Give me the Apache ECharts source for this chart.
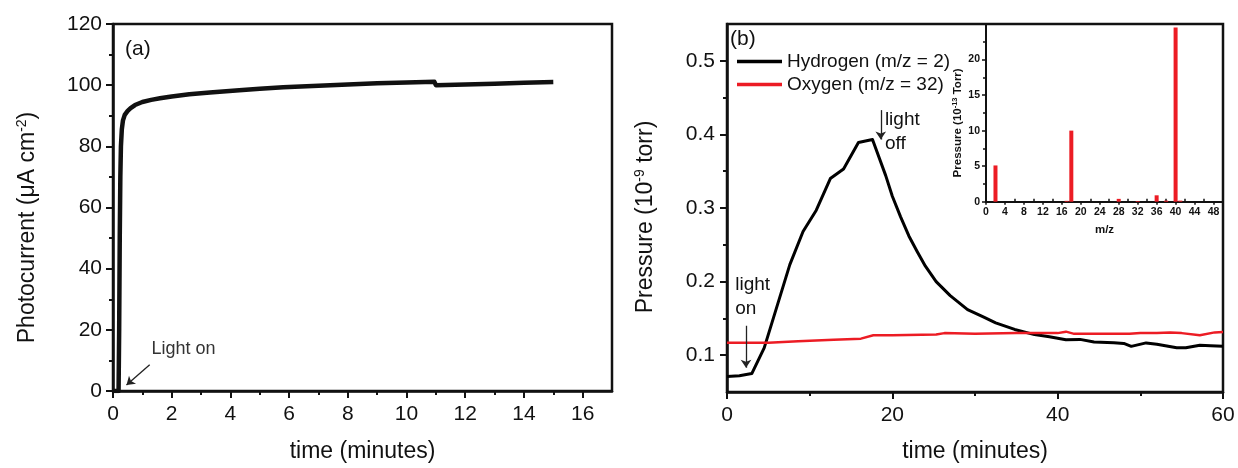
<!DOCTYPE html>
<html>
<head>
<meta charset="utf-8">
<script src="https://cdn.jsdelivr.net/npm/echarts@6/dist/echarts.min.js"></script>
<style>
html,body{margin:0;padding:0;background:#fff;}
#chart{width:1238px;height:468px;}
</style>
</head>
<body>
<div id="chart"></div>
<script>
// ---------- Data ----------
// Panel (a): photocurrent vs time
const photoTime = [0, 0.19, 0.21, 0.23, 0.25, 0.27, 0.30, 0.34, 0.40, 0.5, 0.6, 0.75, 1.0, 1.3, 1.6, 2.0, 2.6, 3.3, 4.3, 5.0, 5.8, 7.0, 8.0, 9.0, 10.0, 10.95, 11.0, 12.0, 13.0, 14.0, 15.0];
const photoCurrent = [0, 0, 20, 50, 70, 80, 85.5, 88.5, 90.3, 91.6, 92.5, 93.5, 94.5, 95.2, 95.7, 96.3, 97.0, 97.6, 98.3, 98.8, 99.3, 99.8, 100.2, 100.6, 100.9, 101.1, 100.0, 100.2, 100.5, 100.8, 101.0];

// Panel (b): pressure vs time
const h2Time = [0, 1.5, 3.0, 4.5, 5.6, 7.6, 9.2, 10.8, 12.5, 14.1, 15.9, 17.6, 19.2, 20.0, 21.0, 22.0, 23.0, 24.0, 25.3, 27.0, 29.1, 31.0, 32.5, 34.8, 37.2, 39.0, 41.0, 42.7, 44.4, 46.8, 48.0, 48.9, 50.7, 52.0, 54.4, 55.5, 57.2, 58.5, 60];
const h2Pressure = [0.071, 0.072, 0.075, 0.110, 0.150, 0.223, 0.268, 0.297, 0.340, 0.353, 0.389, 0.393, 0.344, 0.316, 0.288, 0.262, 0.241, 0.221, 0.200, 0.181, 0.162, 0.152, 0.144, 0.135, 0.128, 0.125, 0.121, 0.1215, 0.118, 0.117, 0.116, 0.112, 0.1167, 0.115, 0.110, 0.110, 0.1135, 0.113, 0.112];
const o2Time = [0, 5, 8.6, 12.9, 16.2, 17.7, 20, 25.3, 26.3, 30, 35, 40, 41, 42, 45, 48.7, 50, 52, 53.6, 55, 57.2, 59, 60];
const o2Pressure = [0.117, 0.117, 0.119, 0.121, 0.1225, 0.127, 0.127, 0.128, 0.130, 0.129, 0.130, 0.130, 0.132, 0.129, 0.129, 0.129, 0.130, 0.130, 0.131, 0.130, 0.127, 0.131, 0.1315];

// Inset: mass spectrum
const mzValues = [2, 17, 18, 28, 32, 36, 38, 40, 41];
const mzPressure = [5.1, 0.12, 10.0, 0.4, 0.1, 0.9, 0.15, 24.5, 0.15];

// Tick labels
const aXTicks = [0, 2, 4, 6, 8, 10, 12, 14, 16];
const aXMinor = [1, 3, 5, 7, 9, 11, 13, 15];
const aYTicks = [0, 20, 40, 60, 80, 100, 120];
const aYMinor = [10, 30, 50, 70, 90, 110];
const bXTicks = [0, 20, 40, 60];
const bXMinor = [10, 30, 50];
const bYTicks = [0.1, 0.2, 0.3, 0.4, 0.5];
const bYMinor = [0.15, 0.25, 0.35, 0.45];
const iXTicks = [0, 4, 8, 12, 16, 20, 24, 28, 32, 36, 40, 44, 48];
const iXMinor = [2, 6, 10, 14, 18, 22, 26, 30, 34, 38, 42, 46];
const iYTicks = [0, 5, 10, 15, 20];
const iYMinor = [2.5, 7.5, 12.5, 17.5, 22.5];

const seriesNames = ['Hydrogen (m/z = 2)', 'Oxygen (m/z = 32)'];

// ---------- Styling helpers ----------
const FONT = 'Liberation Sans, Arial, Helvetica, sans-serif';
const INK = '#111';
const RED = '#ec1c24';

function majorAxis(o) {
  return Object.assign({
    type: 'value',
    splitLine: { show: false },
    axisLine: { show: true, onZero: false, lineStyle: { color: INK, width: o.lw || 2.5 } },
    axisTick: { show: true, inside: !!o.tickInside, length: o.tickLen || 7, customValues: o.ticks, lineStyle: { color: INK, width: o.tw || 2 } },
    axisLabel: { show: true, customValues: o.ticks, margin: o.margin || 11, fontSize: o.fs || 21, fontFamily: FONT, color: INK, fontWeight: o.bold ? 'bold' : 'normal', formatter: o.fmt },
    nameTextStyle: o.nameStyle,
    nameMoveOverlap: false
  }, o.extra);
}
function minorAxis(o) {
  return Object.assign({
    type: 'value',
    splitLine: { show: false },
    axisLine: { show: false, onZero: false },
    axisTick: { show: true, inside: !!o.tickInside, length: o.tickLen || 4, customValues: o.ticks, lineStyle: { color: INK, width: o.tw || 2 } },
    axisLabel: { show: false },
    nameMoveOverlap: false
  }, o.extra);
}
function zip(a, b) { return a.map((v, i) => [v, b[i]]); }

const chart = echarts.init(document.getElementById('chart'), null, { renderer: 'canvas' });

const option = {
  backgroundColor: '#fff',
  animation: false,
  textStyle: { fontFamily: FONT },
  grid: [
    { left: 113, right: 626, top: 24, bottom: 74.7, show: true, borderColor: INK, borderWidth: 2.5, containLabel: false },
    { left: 727, right: 15, top: 24, bottom: 73, show: true, borderColor: INK, borderWidth: 2.5, containLabel: false },
    { left: 986, right: 15, top: 24, bottom: 266.3, show: false, containLabel: false }
  ],
  legend: {
    data: seriesNames,
    left: 737, top: 52, orient: 'vertical', padding: 0,
    icon: 'rect', itemWidth: 45, itemHeight: 3.5, itemGap: 4,
    textStyle: { fontSize: 19, fontFamily: FONT, color: INK, lineHeight: 19 }
  },
  xAxis: [
    majorAxis({ ticks: aXTicks, margin: 13, extra: { gridIndex: 0, min: 0, max: 17, position: 'bottom',
      name: 'time (minutes)', nameLocation: 'middle', nameGap: 49 },
      nameStyle: { fontSize: 23, color: INK, fontFamily: FONT } }),
    minorAxis({ ticks: aXMinor, extra: { gridIndex: 0, min: 0, max: 17, position: 'bottom' } }),
    majorAxis({ ticks: bXTicks, margin: 13, extra: { gridIndex: 1, min: 0, max: 60, position: 'bottom',
      name: 'time (minutes)', nameLocation: 'middle', nameGap: 48 },
      nameStyle: { fontSize: 23, color: INK, fontFamily: FONT } }),
    minorAxis({ ticks: bXMinor, extra: { gridIndex: 1, min: 0, max: 60, position: 'bottom' } }),
    majorAxis({ ticks: iXTicks, margin: 5, fs: 10.5, bold: true, lw: 2, tickLen: 3, tw: 1.5,
      extra: { gridIndex: 2, min: 0, max: 50, position: 'bottom', name: 'm/z', nameLocation: 'middle', nameGap: 22 },
      nameStyle: { fontSize: 11.5, fontWeight: 'bold', color: INK, fontFamily: FONT } }),
    minorAxis({ ticks: iXMinor, tickInside: true, tickLen: 3, tw: 1.5, extra: { gridIndex: 2, min: 0, max: 50, position: 'bottom' } })
  ],
  yAxis: [
    majorAxis({ ticks: aYTicks, margin: 11, extra: { gridIndex: 0, min: 0, max: 120, position: 'left',
      name: 'Photocurrent (μA cm{sup|-2})', nameLocation: 'middle', nameGap: 72 },
      nameStyle: { fontSize: 23, color: INK, fontFamily: FONT, lineHeight: 26, padding: [0, 40, 0, 0],
        rich: { sup: { fontSize: 14, color: INK, fontFamily: FONT, verticalAlign: 'top', lineHeight: 12 } } } }),
    minorAxis({ ticks: aYMinor, extra: { gridIndex: 0, min: 0, max: 120, position: 'left' } }),
    majorAxis({ ticks: bYTicks, margin: 12, fmt: v => v.toFixed(1), extra: { gridIndex: 1, min: 0.05, max: 0.55, position: 'left',
      name: 'Pressure (10{sup|-9} torr)', nameLocation: 'middle', nameGap: 68 },
      nameStyle: { fontSize: 23, color: INK, fontFamily: FONT, lineHeight: 26, padding: [0, 18, 0, 0],
        rich: { sup: { fontSize: 14, color: INK, fontFamily: FONT, verticalAlign: 'top', lineHeight: 12 } } } }),
    minorAxis({ ticks: bYMinor, extra: { gridIndex: 1, min: 0.05, max: 0.55, position: 'left' } }),
    majorAxis({ ticks: iYTicks, margin: 6, fs: 10.5, bold: true, lw: 2, tickLen: 4, tw: 1.5,
      extra: { gridIndex: 2, min: 0, max: 25, position: 'left', name: 'Pressure (10{sup|-13} Torr)', nameLocation: 'middle', nameGap: 22 },
      nameStyle: { fontSize: 11.5, fontWeight: 'bold', color: INK, fontFamily: FONT, lineHeight: 13, padding: [0, 20, 0, 0],
        rich: { sup: { fontSize: 7.5, fontWeight: 'bold', color: INK, fontFamily: FONT, verticalAlign: 'top', lineHeight: 7 } } } }),
    minorAxis({ ticks: iYMinor, tickLen: 3, tw: 1.5, extra: { gridIndex: 2, min: 0, max: 25, position: 'left' } })
  ],
  series: [
    {
      type: 'line', name: 'Photocurrent', xAxisIndex: 0, yAxisIndex: 0,
      data: zip(photoTime, photoCurrent), showSymbol: false,
      lineStyle: { color: INK, width: 4.5, join: 'round' }, itemStyle: { color: INK },
      markLine: {
        silent: true, symbol: ['none', 'arrow'], symbolSize: 8, label: { show: false },
        lineStyle: { color: '#222', width: 1.3, type: 'solid' },
        data: [[{ coord: [1.25, 8.6] }, { coord: [0.46, 1.95] }]]
      },
      markPoint: {
        silent: true, symbol: 'circle', symbolSize: 0,
        data: [{ coord: [1.31, 13.6], label: { show: true, position: 'right', distance: 0, formatter: 'Light on', fontSize: 18, color: '#333', fontFamily: FONT } }]
      }
    },
    {
      type: 'line', name: seriesNames[0], xAxisIndex: 2, yAxisIndex: 2,
      data: zip(h2Time, h2Pressure), showSymbol: false,
      lineStyle: { color: '#000', width: 3, join: 'round' }, itemStyle: { color: '#000' },
      markLine: {
        silent: true, symbol: ['none', 'arrow'], symbolSize: 8, label: { show: false },
        lineStyle: { color: '#222', width: 1.3, type: 'solid' },
        data: [
          [{ coord: [2.3, 0.140] }, { coord: [2.3, 0.083] }],
          [{ coord: [18.6, 0.433] }, { coord: [18.6, 0.393] }]
        ]
      },
      markPoint: {
        silent: true, symbol: 'circle', symbolSize: 0,
        label: { show: true, position: 'right', distance: 0, fontSize: 19, lineHeight: 24, color: INK, fontFamily: FONT },
        data: [
          { coord: [1.0, 0.179], label: { formatter: 'light\non' } },
          { coord: [19.1, 0.404], label: { formatter: 'light\noff' } }
        ]
      }
    },
    {
      type: 'line', name: seriesNames[1], xAxisIndex: 2, yAxisIndex: 2,
      data: zip(o2Time, o2Pressure), showSymbol: false,
      lineStyle: { color: RED, width: 2.5 }, itemStyle: { color: RED }
    },
    {
      type: 'bar', name: 'Mass spectrum', xAxisIndex: 4, yAxisIndex: 4,
      data: zip(mzValues, mzPressure), barWidth: 4,
      itemStyle: { color: RED }
    }
  ],
  graphic: [
    { type: 'text', left: 125, top: 39, style: { text: '(a)', fontSize: 21, fill: INK, fontFamily: FONT } },
    { type: 'text', left: 730, top: 29, style: { text: '(b)', fontSize: 21, fill: INK, fontFamily: FONT } }
  ]
};
chart.setOption(option);
</script>
</body>
</html>
